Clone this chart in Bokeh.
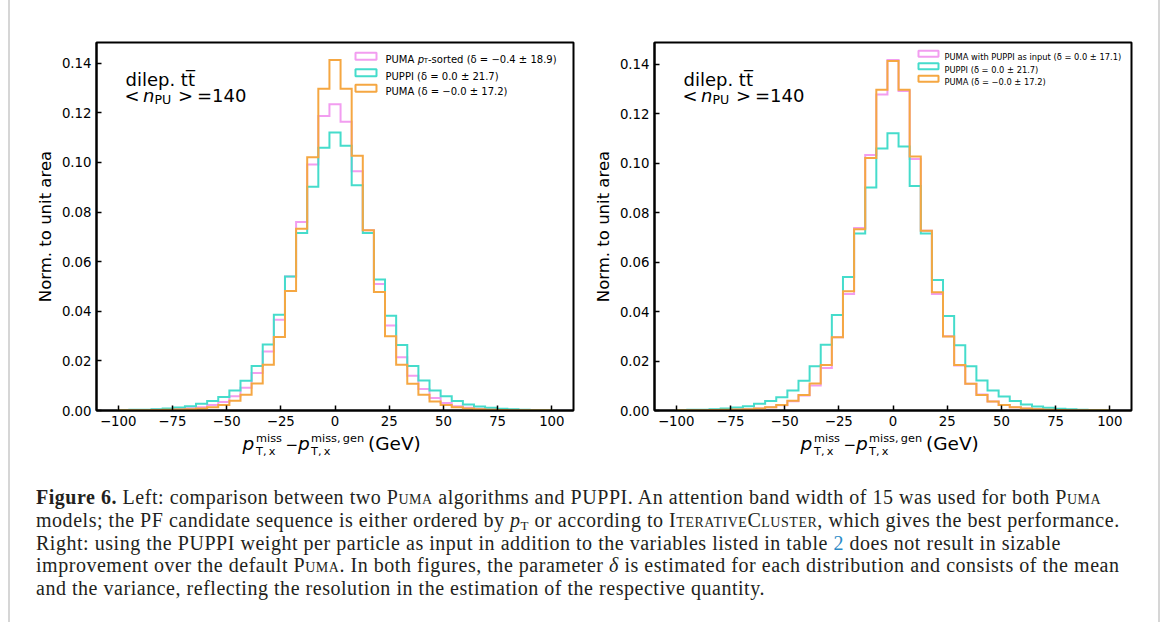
import numpy as np
from bokeh.plotting import figure
from bokeh.models import Label, FixedTicker, Div, Range1d
from bokeh.layouts import row, column
from bokeh.embed import file_html
from bokeh.resources import INLINE

# ---------------- data ----------------
BIN_LO, BIN_HI, N_BINS = -100.0, 100.0, 39

X_TICKS = [-100, -75, -50, -25, 0, 25, 50, 75, 100]
X_TICK_LABELS = ["−100", "−75", "−50", "−25", "0", "25", "50", "75", "100"]
Y_TICKS = [0.0, 0.02, 0.04, 0.06, 0.08, 0.10, 0.12, 0.14]
Y_TICK_LABELS = ["0.00", "0.02", "0.04", "0.06", "0.08", "0.10", "0.12", "0.14"]

puppi = [0.0002, 0.0003, 0.0003, 0.0005, 0.0008, 0.0012, 0.0017, 0.0027, 0.0038, 0.0054,
         0.0081, 0.0120, 0.0179, 0.0266, 0.0386, 0.0540, 0.0716, 0.0902, 0.1059, 0.1121,
         0.1067, 0.0908, 0.0716, 0.0528, 0.0382, 0.0264, 0.0179, 0.0121, 0.0081, 0.0057,
         0.0038, 0.0024, 0.0016, 0.0011, 0.0007, 0.0005, 0.0003, 0.0002, 0.0002]

puma = [0.0001, 0.0001, 0.0001, 0.0002, 0.0003, 0.0004, 0.0005, 0.0008, 0.0013, 0.0022,
        0.0039, 0.0063, 0.0109, 0.0184, 0.0296, 0.0482, 0.0733, 0.1021, 0.1297, 0.1413,
        0.1297, 0.1027, 0.0727, 0.0478, 0.0299, 0.0184, 0.0108, 0.0063, 0.0036, 0.0022,
        0.0013, 0.0008, 0.0005, 0.0003, 0.0002, 0.0001, 0.0001, 0.0001, 0.0001]

puma_pt_sorted = [0.0001, 0.0002, 0.0002, 0.0003, 0.0004, 0.0006, 0.0009, 0.0013, 0.0022, 0.0034,
                  0.0057, 0.0092, 0.0151, 0.0238, 0.0366, 0.0540, 0.0760, 0.0992, 0.1187, 0.1235,
                  0.1164, 0.0965, 0.0727, 0.0510, 0.0343, 0.0215, 0.0140, 0.0087, 0.0050, 0.0030,
                  0.0017, 0.0011, 0.0007, 0.0005, 0.0003, 0.0002, 0.0002, 0.0001, 0.0001]

puma_with_puppi = [0.0001, 0.0001, 0.0001, 0.0002, 0.0003, 0.0004, 0.0005, 0.0008, 0.0013, 0.0021,
                   0.0037, 0.0061, 0.0101, 0.0172, 0.0296, 0.0471, 0.0738, 0.1033, 0.1278, 0.1417,
                   0.1292, 0.1017, 0.0727, 0.0471, 0.0300, 0.0182, 0.0108, 0.0065, 0.0036, 0.0022,
                   0.0013, 0.0008, 0.0005, 0.0003, 0.0002, 0.0001, 0.0001, 0.0001, 0.0001]

# ---------------- style ----------------
PINK, CYAN, ORANGE = "#F29DF0", "#45DCCB", "#F5A742"
FONT = "DejaVu Sans"
FW, FH = 477, 368
XMIN, XMAX = -110.0, 110.0
BORDER_TOP, BORDER_BOTTOM = 42, 24
DIV_SHIFT = 5  # the Div's content box sits a few px in from its edges

edges = np.linspace(BIN_LO, BIN_HI, N_BINS + 1)


def step_xy(vals):
    xs = np.repeat(edges, 2)
    ys = np.concatenate([[0.0], np.repeat(np.asarray(vals, dtype=float), 2), [0.0]])
    return xs, ys


def make_panel(series, legend_rows, legend_style, b_left, b_right):
    ymax = 1.05 * max(max(v) for _, v in series)
    p = figure(frame_width=FW, frame_height=FH,
               x_range=Range1d(XMIN, XMAX), y_range=Range1d(0, ymax),
               min_border_left=b_left, min_border_right=b_right,
               min_border_top=BORDER_TOP, min_border_bottom=BORDER_BOTTOM,
               output_backend="svg", toolbar_location=None, tools="")
    p.grid.visible = False
    p.outline_line_color = "black"
    p.outline_line_width = 2
    p.outline_line_alpha = 1
    p.background_fill_color = "white"
    p.border_fill_color = "white"

    for ax in (p.xaxis, p.yaxis):
        ax.axis_line_width = 2
        ax.axis_line_color = "black"
        ax.major_tick_in = 5
        ax.major_tick_out = 0
        ax.major_tick_line_width = 1.5
        ax.minor_tick_line_color = None
        ax.major_label_text_font = FONT
        ax.major_label_text_font_size = "13.3px"
        ax.major_label_text_color = "black"
        ax.major_label_standoff = 5
    p.xaxis.ticker = FixedTicker(ticks=X_TICKS)
    p.xaxis.major_label_overrides = {t: l for t, l in zip(X_TICKS, X_TICK_LABELS)}
    p.yaxis.ticker = FixedTicker(ticks=Y_TICKS)
    p.yaxis.major_label_overrides = {t: l for t, l in zip(Y_TICKS, Y_TICK_LABELS)}
    p.yaxis.axis_label = "Norm. to unit area"
    p.yaxis.axis_label_text_font = FONT
    p.yaxis.axis_label_text_font_size = "16.5px"
    p.yaxis.axis_label_text_font_style = "normal"
    p.yaxis.axis_label_text_color = "black"
    p.yaxis.axis_label_standoff = 4

    for color, vals in series:
        xs, ys = step_xy(vals)
        p.line(xs, ys, line_color=color, line_width=2, line_join="miter")

    def at(dx, dy):
        return XMIN + dx / FW * (XMAX - XMIN), ymax - dy / FH * ymax

    def lab(text, dx, dy, size, style="normal"):
        x, y = at(dx, dy)
        p.add_layout(Label(x=x, y=y, text=text, text_font=FONT, text_font_size=size,
                           text_font_style=style, text_color="black",
                           text_align="left", text_baseline="alphabetic"))

    # physics annotation
    lab("dilep. tt\u0305", 29, 37.3, "18px")
    lab("<", 28, 53, "18px")
    lab("n", 46.5, 53, "18px", "italic")
    lab("PU", 58, 56.5, "12.6px")
    lab(">", 81.5, 53, "18px")
    lab("=140", 100.5, 53, "18px")

    # legend
    sw_dx, sw_w, sw_h, txt_dx, fsize = legend_style
    for (color, pieces), row_dy in legend_rows:
        cx, cy = at(sw_dx + sw_w / 2, row_dy)
        p.rect(x=[cx], y=[cy], width=sw_w, height=sw_h, width_units="screen",
               height_units="screen", fill_alpha=0, line_color=color, line_width=2)
        for text, ddx, kind in pieces:
            if kind == "sub":
                lab(text, txt_dx + ddx, row_dy + 3.6 + 1.6, "%.1fpx" % (float(fsize[:-2]) * 0.7))
            else:
                lab(text, txt_dx + ddx, row_dy + 3.6, fsize, kind)
    return p


left_series = [(PINK, puma_pt_sorted), (CYAN, puppi), (ORANGE, puma)]
left_legend = [
    ((PINK, [("PUMA", 0, "normal"), ("p", 32.3, "italic"), ("T", 38.3, "sub"),
             ("-sorted (δ = −0.4 ± 18.9)", 42.5, "normal")]), 13.7),
    ((CYAN, [("PUPPI (δ = 0.0 ± 21.7)", 0, "normal")]), 30.3),
    ((ORANGE, [("PUMA (δ = −0.0 ± 17.2)", 0, "normal")]), 45.7),
]
right_series = [(PINK, puma_with_puppi), (CYAN, puppi), (ORANGE, puma)]
right_legend = [
    ((PINK, [("PUMA with PUPPI as input (δ = 0.0 ± 17.1)", 0, "normal")]), 11.3),
    ((CYAN, [("PUPPI (δ = 0.0 ± 21.7)", 0, "normal")]), 23.7),
    ((ORANGE, [("PUMA (δ = −0.0 ± 17.2)", 0, "normal")]), 36.3),
]

p1 = make_panel(left_series, left_legend, (259, 21, 7, 289, "10px"), 96, 12)
p2 = make_panel(right_series, right_legend, (264, 20, 6, 290, "8.3px"), 69, 39)

# ---------------- x-axis titles (composed, sub/superscripts) ----------------
XLABEL_PIECES = [  # text, x offset from panel frame-left, baseline below plot bottom, size, style
    ("p", 146.5, 16, 18.5, "italic"),
    ("miss", 160, 7.7, 11.3, "normal"),
    ("T,\u2009x", 160, 21, 11.3, "normal"),
    ("\u2212", 189.5, 16, 15, "normal"),
    ("p", 202, 16, 18.5, "italic"),
    ("miss,\u2009gen", 215, 7.7, 11.3, "normal"),
    ("T,\u2009x", 215, 21, 11.3, "normal"),
    ("(GeV)", 272, 16, 18.5, "normal"),
]
FRAME_LEFTS = [96, 585 + 69]
svg_texts = []
for fl in FRAME_LEFTS:
    for t, dx, by, sz, st in XLABEL_PIECES:
        svg_texts.append(
            '<text x="%.1f" y="%.1f" style="font-family:\'DejaVu Sans\';font-size:%.1fpx;'
            'font-style:%s;fill:#000">%s</text>' % (fl + dx - DIV_SHIFT, by + 2, sz, st, t))
xlabel_svg = ('<svg width="1170" height="30" xmlns="http://www.w3.org/2000/svg" '
              'style="display:block;overflow:visible;margin:-%dpx 0 0 0">' % (DIV_SHIFT + 2)
              + "".join(svg_texts) + '</svg>')

SC = "font-variant:small-caps"
caption_html = (
    '<div style="position:fixed;left:8px;top:0;width:1152px;height:622px;box-sizing:border-box;'
    'border-left:2px solid #d6d6d6;border-right:2px solid #d6d6d6;pointer-events:none"></div>'
    + xlabel_svg +
    '<div style="font-family:\'Liberation Serif\',serif;font-size:20px;letter-spacing:0.53px;'
    'line-height:22.8px;color:#231f20;padding:24px 0 0 %dpx;white-space:nowrap">' % (36 - DIV_SHIFT) +
    '<b>Figure 6.</b> Left: comparison between two <span style="%s">Puma</span> algorithms and PUPPI. '
    'An attention band width of 15 was used for both <span style="%s">Puma</span><br>'
    'models; the PF candidate sequence is either ordered by <i>p</i><sub style="font-size:65%%;'
    'vertical-align:-0.2em;line-height:0">T</sub> or according to <span style="%s">IterativeCluster</span>, '
    'which gives the best performance.<br>'
    'Right: using the PUPPI weight per particle as input in addition to the variables listed in table '
    '<span style="color:#2a8ac6">2</span> does not result in sizable<br>'
    'improvement over the default <span style="%s">Puma</span>. In both figures, the parameter <i>δ</i> '
    'is estimated for each distribution and consists of the mean<br>'
    'and the variance, reflecting the resolution in the estimation of the respective quantity.'
    '</div>'
) % (SC, SC, SC, SC)

caption = Div(text=caption_html, width=1170, height=622 - (BORDER_TOP + FH + BORDER_BOTTOM))

layout = column(row(p1, p2), caption)

open("out.html", "w").write(file_html(layout, INLINE))
